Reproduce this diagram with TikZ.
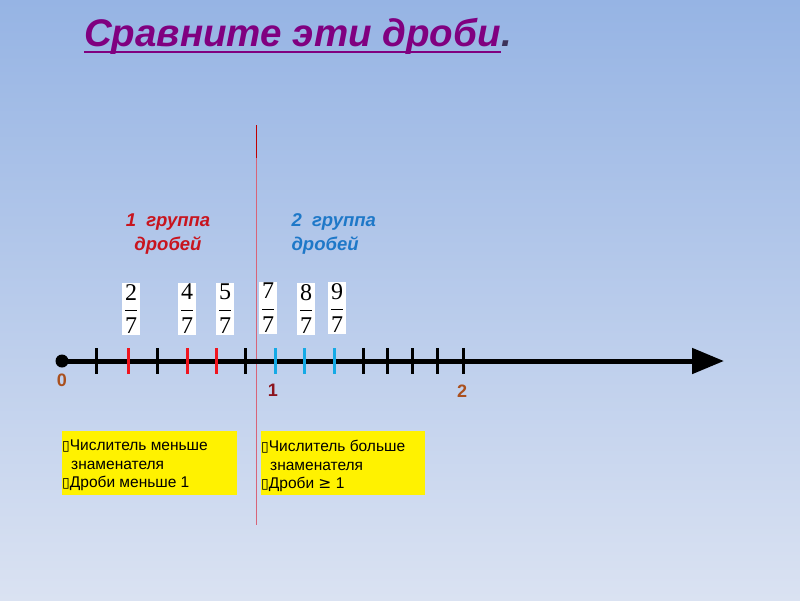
\documentclass[tikz,border=0pt]{standalone}
\usepackage{fontspec}
\usepackage{amsmath}
\setmainfont{Liberation Sans}
\newfontfamily\symfont{DejaVu Sans}
\newfontfamily\fracfont{Liberation Serif}
\usetikzlibrary{arrows.meta}
\definecolor{bgtop}{RGB}{150,180,228}
\definecolor{bgbot}{RGB}{218,226,242}
\definecolor{titlec}{RGB}{128,0,128}
\definecolor{dotc}{RGB}{60,50,90}
\definecolor{grpred}{RGB}{200,20,30}
\definecolor{grpblue}{RGB}{30,120,200}
\definecolor{tkred}{RGB}{240,20,30}
\definecolor{tkblue}{RGB}{20,170,230}
\definecolor{brownc}{RGB}{170,80,30}
\definecolor{onec}{RGB}{140,20,30}
\definecolor{sepc}{RGB}{215,100,120}
\tikzset{
  tk/.style={line width=3pt},
  frac/.style={fill=white, inner sep=1.5pt, font=\fontsize{24}{28}\selectfont},
  grp/.style={font=\fontsize{18.5}{24}\selectfont\bfseries\itshape, align=center},
  num/.style={font=\fontsize{18}{20}\selectfont\bfseries},
  note/.style={anchor=north west, inner sep=0pt, font=\fontsize{15.5}{18.5}\selectfont, align=left},
}
\newcommand{\bx}{{\symfont\fontsize{14}{14}\selectfont ▯}}
\newcommand{\fr}[2]{$\displaystyle\frac{\text{\fracfont #1}}{\text{\fracfont #2}}$}
\begin{document}
\begin{tikzpicture}[x=1pt,y=-1pt]
\useasboundingbox (0,0) rectangle (800,600);
\shade[top color=bgtop, bottom color=bgbot] (0,0) rectangle (800,600);
% title
\node[anchor=base west, text=titlec, font=\fontsize{38.5}{42}\selectfont\bfseries\itshape, inner sep=0pt] (title) at (84,46) {Сравните эти дроби};
\node[anchor=base west, text=dotc, font=\fontsize{38.5}{42}\selectfont\bfseries\itshape, inner sep=0pt] (dot) at (title.base east) {.};
\draw[titlec, line width=2.2pt] ([yshift=-6pt]title.base west) -- ([yshift=-6pt]title.base east);
% separator
\draw[sepc, line width=1pt] (256,158) -- (256,525);
\draw[red!75!black, line width=1pt] (256,125) -- (256,158);
% group labels
\node[grp, text=grpred] (g1) at (168,234) {1\ \ группа\\дробей};
\node[grp, text=grpblue, align=left, anchor=west] (g2) at (288,234) {2\ \ группа\\дробей};
% axis
\node[circle, fill=black, minimum size=13pt, inner sep=0pt] (zero) at (62,361) {};
\coordinate (tip) at (724,361);
\draw[line width=5pt, -{Triangle[length=32pt,width=25pt]}] (zero.center) -- (tip);
% ticks
\foreach \x in {96,157,245,363,387,412,437,463}{
  \draw[tk] (\x,348) -- (\x,374);
}
\foreach \x in {128,187,216}{
  \draw[tk, tkred] (\x,348) -- (\x,374);
}
\foreach \x in {275,304,334}{
  \draw[tk, tkblue] (\x,348) -- (\x,374);
}
% fractions
\node[frac] (f2) at (131,309) {\fr{2}{7}};
\node[frac] (f4) at (187,309) {\fr{4}{7}};
\node[frac] (f5) at (225,309) {\fr{5}{7}};
\node[frac] (f7) at (268,308) {\fr{7}{7}};
\node[frac] (f8) at (306,309) {\fr{8}{7}};
\node[frac] (f9) at (337,308) {\fr{9}{7}};
% numbers
\node[num, text=brownc] (n0) at (62,380) {0};
\node[num, text=onec] (n1) at (273,390) {1};
\node[num, text=brownc] (n2) at (462,391) {2};
% notes
\fill[yellow] (62,431) rectangle (237,495);
\fill[yellow] (261,431) rectangle (425,495);
\node[note] (b1) at (62,440)
  {\bx Числитель меньше\\\hspace*{9pt}знаменателя\\\bx Дроби меньше 1};
\node[note] (b2) at (261,440)
  {\bx Числитель больше\\\hspace*{9pt}знаменателя\\\bx Дроби {\symfont ≥} 1};
\end{tikzpicture}
\end{document}
